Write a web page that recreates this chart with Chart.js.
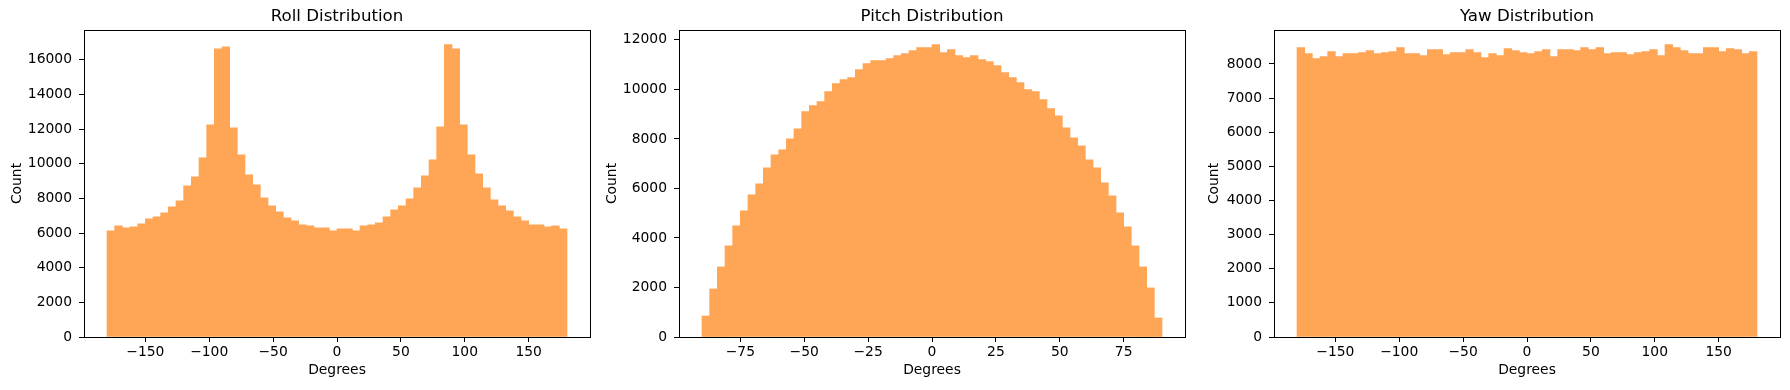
<!DOCTYPE html>
<html>
<head>
<meta charset="utf-8">
<script src="https://cdn.jsdelivr.net/npm/chart.js@4.4.1/dist/chart.umd.min.js"></script>
<style>
    body { margin: 0; background: #fff; width: 1790px; height: 390px; overflow: hidden; }
    canvas { position: absolute; top: 0; }
</style>
</head>
<body>
<canvas id="graficoRoll" width="595" height="390" style="left:0px;width:595px;height:390px"></canvas>
<canvas id="graficoPitch" width="595" height="390" style="left:595px;width:595px;height:390px"></canvas>
<canvas id="graficoYaw" width="600" height="390" style="left:1190px;width:600px;height:390px"></canvas>
<script>
// centri dei bin (60 bin da 6 gradi per roll/yaw, da 3 gradi per pitch)
const centri360 = [
    -177, -171, -165, -159, -153, -147, -141, -135, -129, -123,
    -117, -111, -105, -99, -93, -87, -81, -75, -69, -63,
    -57, -51, -45, -39, -33, -27, -21, -15, -9, -3,
    3, 9, 15, 21, 27, 33, 39, 45, 51, 57,
    63, 69, 75, 81, 87, 93, 99, 105, 111, 117,
    123, 129, 135, 141, 147, 153, 159, 165, 171, 177
];
const centri180 = [
    -88.5, -85.5, -82.5, -79.5, -76.5, -73.5, -70.5, -67.5, -64.5, -61.5,
    -58.5, -55.5, -52.5, -49.5, -46.5, -43.5, -40.5, -37.5, -34.5, -31.5,
    -28.5, -25.5, -22.5, -19.5, -16.5, -13.5, -10.5, -7.5, -4.5, -1.5,
    1.5, 4.5, 7.5, 10.5, 13.5, 16.5, 19.5, 22.5, 25.5, 28.5,
    31.5, 34.5, 37.5, 40.5, 43.5, 46.5, 49.5, 52.5, 55.5, 58.5,
    61.5, 64.5, 67.5, 70.5, 73.5, 76.5, 79.5, 82.5, 85.5, 88.5
];

const rollConteggi = [
    6122, 6411, 6295, 6353, 6526, 6815, 6930, 7162, 7508, 7854,
    8721, 9240, 10338, 12244, 16633, 16748, 12070, 10511, 9356, 8778,
    8027, 7565, 7219, 6872, 6699, 6468, 6411, 6295, 6295, 6122,
    6237, 6237, 6122, 6411, 6468, 6584, 6930, 7335, 7565, 7970,
    8605, 9298, 10222, 12128, 16870, 16633, 12244, 10511, 9413, 8605,
    7912, 7565, 7277, 6930, 6699, 6468, 6468, 6353, 6411, 6237
];
const pitchConteggi = [
    849, 1941, 2831, 3680, 4489, 5096, 5742, 6187, 6834, 7360,
    7562, 8007, 8411, 9099, 9342, 9503, 9908, 10231, 10393, 10474,
    10797, 11040, 11161, 11161, 11242, 11363, 11444, 11565, 11687, 11687,
    11808, 11485, 11606, 11363, 11282, 11363, 11201, 11120, 10959, 10676,
    10474, 10272, 9989, 9908, 9584, 9220, 8937, 8452, 8047, 7724,
    7158, 6834, 6228, 5702, 5015, 4448, 3680, 2831, 1982, 768
];
const yawConteggi = [
    8479, 8303, 8157, 8215, 8362, 8215, 8303, 8303, 8333, 8391,
    8303, 8333, 8362, 8479, 8303, 8303, 8245, 8421, 8421, 8274,
    8333, 8333, 8421, 8333, 8186, 8303, 8245, 8450, 8391, 8333,
    8303, 8362, 8421, 8215, 8421, 8421, 8391, 8479, 8421, 8479,
    8303, 8333, 8333, 8274, 8333, 8362, 8421, 8245, 8567, 8479,
    8391, 8303, 8303, 8479, 8479, 8362, 8450, 8421, 8303, 8362
];

const tickX360 = [-150, -100, -50, 0, 50, 100, 150];
const tickX180 = [-75, -50, -25, 0, 25, 50, 75];
const tickYRoll = [0, 2000, 4000, 6000, 8000, 10000, 12000, 14000, 16000];
const tickYPitch = [0, 2000, 4000, 6000, 8000, 10000, 12000];
const tickYYaw = [0, 1000, 2000, 3000, 4000, 5000, 6000, 7000, 8000];

const FONT = "'DejaVu Sans', sans-serif";
const ARANCIO = 'rgb(255,165,86)';

Chart.defaults.color = '#000';
Chart.defaults.font.family = FONT;

// cornice nera attorno all'area del grafico (come gli spines di matplotlib)
const cornicePlugin = {
    id: 'cornice',
    afterDatasetsDraw(chart) {
        const a = chart.chartArea;
        const ctx = chart.ctx;
        const l = Math.round(a.left), t = Math.round(a.top);
        const r = Math.round(a.right), b = Math.round(a.bottom);
        ctx.save();
        ctx.strokeStyle = '#000';
        ctx.lineWidth = 1;
        ctx.strokeRect(l + 0.5, t + 0.5, r - l, b - t);
        ctx.restore();
    }
};

function meno(v) {
    return String(v).replace('-', '\u2212');
}

function creaIstogramma(idCanvas, titolo, centri, conteggi, limiteX, tickX, tickY, padTitoloY, padDestra) {
    const ctx = document.getElementById(idCanvas).getContext('2d');
    const massimo = Math.max(...conteggi);
    return new Chart(ctx, {
        type: 'bar',
        data: {
            datasets: [{
                data: centri.map((c, i) => ({ x: c, y: conteggi[i] })),
                backgroundColor: ARANCIO,
                borderWidth: 0,
                barPercentage: 1,
                categoryPercentage: 1
            }]
        },
        options: {
            responsive: false,
            animation: false,
            layout: { padding: { left: 0, top: 0, bottom: 0, right: padDestra } },
            scales: {
                x: {
                    type: 'linear',
                    offset: false,
                    min: -limiteX * 1.1,   // margine 5% come matplotlib
                    max: limiteX * 1.1,
                    afterBuildTicks: s => { s.ticks = tickX.map(v => ({ value: v })); },
                    afterFit: s => { s.height = 53; },
                    border: { display: false },
                    grid: { offset: false, drawOnChartArea: false, color: '#000', tickLength: 5, lineWidth: 1 },
                    ticks: { font: { size: 13.89 }, padding: 2, maxRotation: 0, callback: v => meno(v) },
                    title: { display: true, text: 'Degrees', font: { size: 13.89 }, padding: { top: 0, bottom: 10.8 } }
                },
                y: {
                    min: 0,
                    max: massimo * 1.05,
                    afterBuildTicks: s => { s.ticks = tickY.map(v => ({ value: v })); },
                    afterFit: s => { s.width = 84; },
                    border: { display: false },
                    grid: { drawOnChartArea: false, color: '#000', tickLength: 5, lineWidth: 1 },
                    ticks: { font: { size: 13.89 }, padding: 7, callback: v => meno(v) },
                    title: { display: true, text: 'Count', font: { size: 13.89 }, padding: { top: padTitoloY, bottom: 0 } }
                }
            },
            plugins: {
                legend: { display: false },
                tooltip: { enabled: false },
                title: {
                    display: true,
                    text: titolo,
                    fullSize: false,
                    font: { size: 16.67, weight: 'normal' },
                    padding: { top: 6.5, bottom: 3.5 }
                }
            }
        },
        plugins: [cornicePlugin]
    });
}

creaIstogramma('graficoRoll', 'Roll Distribution', centri360, rollConteggi, 180, tickX360, tickYRoll, 8.7, 5);
creaIstogramma('graficoPitch', 'Pitch Distribution', centri180, pitchConteggi, 90, tickX180, tickYPitch, 9.0, 5);
creaIstogramma('graficoYaw', 'Yaw Distribution', centri360, yawConteggi, 180, tickX360, tickYYaw, 16.4, 10);
</script>
</body>
</html>
